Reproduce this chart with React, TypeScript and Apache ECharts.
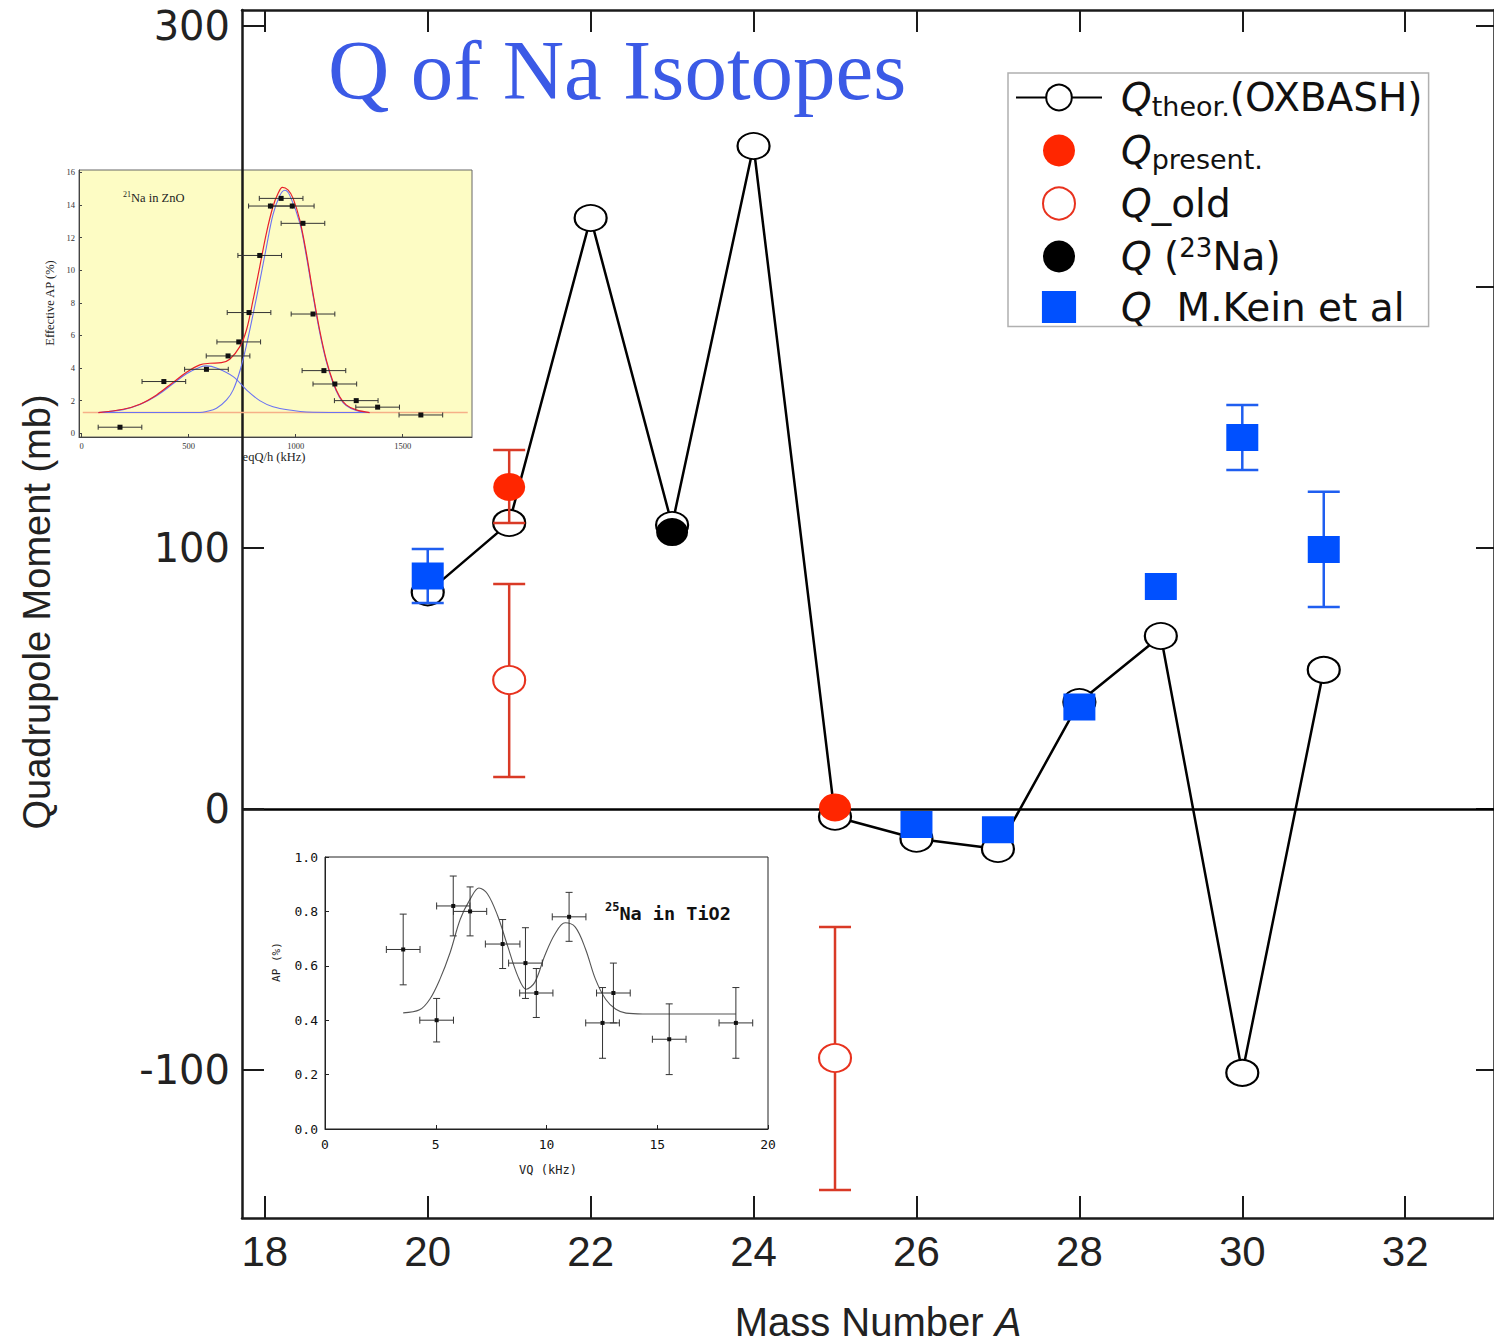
import React, { useEffect, useRef } from "react";
import * as echarts from "echarts";

// ---------------- Main chart data ----------------
const massNumbers = [20, 21, 22, 23, 24, 25, 26, 27, 28, 29, 30, 31];
const qTheor = [83, 109.6, 226.4, 108.8, 254, -3, -11.4, -15.3, 41, 66.3, -101.1, 53.3];

const presentA = [21, 25];
const qPresent = [123.4, 0.6];
const presentErrA = [21];
const presentErrLo = [109.6];
const presentErrHi = [137.5];

const oldA = [21, 25];
const qOld = [49.4, -95.4];
const oldErrLo = [12.3, -146];
const oldErrHi = [86.2, -45.2];

const na23A = [23];
const qNa23 = [106.1];

const keinA = [20, 26, 27, 28, 29, 30, 31];
const qKein = [89.3, -5.9, -8.0, 39.1, 85.2, 142.3, 99.4];
const keinErrA = [20, 30, 31];
const keinErrLo = [78.9, 129.9, 77.4];
const keinErrHi = [99.6, 154.8, 121.5];

const xTicks = [18, 20, 22, 24, 26, 28, 30, 32];
const yTicksLeft = [-100, 0, 100, 300];
const yTicksRight = [-100, 0, 100, 200, 300];

// ---------------- Inset 1: 21Na in ZnO ----------------
const znoX = [179, 384, 583, 684, 734, 782, 832, 882, 932, 984, 1034, 1081, 1132, 1183, 1283, 1383, 1585];
const znoY = [0.37, 3.17, 3.92, 4.74, 5.6, 7.4, 10.9, 13.93, 14.4, 13.93, 12.87, 7.31, 3.84, 3.02, 2.0, 1.6, 1.12];
const znoXErr = [102, 102, 102, 102, 102, 102, 102, 102, 102, 102, 102, 102, 102, 102, 102, 102, 102];
const znoTotalFit: [number, number][] = [
  [78, 1.27], [194, 1.47], [272, 1.78], [350, 2.35], [428, 3.13], [490, 3.74], [552, 4.19], [599, 4.29],
  [653, 4.33], [692, 4.54], [739, 5.31], [770, 6.33], [801, 8.17], [832, 10.2], [863, 12.26], [894, 13.9],
  [918, 14.71], [938, 15.08], [964, 14.92], [988, 14.4], [1019, 13.08], [1050, 11.03], [1081, 8.58],
  [1112, 6.33], [1143, 4.5], [1174, 3.17], [1205, 2.25], [1236, 1.74], [1283, 1.43], [1345, 1.27],
];
const znoNarrowFit: [number, number][] = [
  [78, 1.27], [552, 1.27], [583, 1.33], [630, 1.53], [677, 2.04], [708, 2.66], [739, 3.8], [770, 5.4],
  [801, 7.3], [832, 9.3], [863, 11.4], [894, 13.4], [925, 14.55], [949, 14.9], [972, 14.6], [1019, 12.9],
  [1050, 10.85], [1081, 8.45], [1112, 6.2], [1143, 4.4], [1174, 3.1], [1205, 2.2], [1236, 1.7], [1283, 1.4],
  [1345, 1.27],
];
const znoBroadFit: [number, number][] = [
  [78, 1.27], [194, 1.45], [272, 1.76], [350, 2.3], [428, 3.05], [490, 3.65], [552, 4.05], [583, 4.13],
  [630, 4.0], [708, 3.47], [770, 2.66], [832, 2.0], [894, 1.63], [988, 1.39], [1050, 1.3], [1205, 1.27],
  [1345, 1.27],
];
const znoBaseline: [number, number][] = [[5, 1.27], [1804, 1.27]];
const znoXTicks = [0, 500, 1000, 1500];
const znoYTicks = [0, 2, 4, 6, 8, 10, 12, 14, 16];

// ---------------- Inset 2: 25Na in TiO2 ----------------
const tioX = [3.53, 5.04, 5.79, 6.55, 8.02, 9.05, 9.54, 11.02, 12.53, 13.02, 15.54, 18.55];
const tioY = [0.66, 0.4, 0.82, 0.8, 0.68, 0.61, 0.5, 0.78, 0.39, 0.5, 0.33, 0.39];
const tioXErr = [0.76, 0.76, 0.75, 0.75, 0.78, 0.76, 0.75, 0.76, 0.76, 0.76, 0.76, 0.76];
const tioYLo = [0.53, 0.32, 0.71, 0.71, 0.59, 0.48, 0.41, 0.69, 0.26, 0.39, 0.2, 0.26];
const tioYHi = [0.79, 0.48, 0.93, 0.89, 0.77, 0.74, 0.59, 0.87, 0.52, 0.61, 0.46, 0.52];
const tioFit: [number, number][] = [
  [3.53, 0.427], [4.27, 0.438], [4.73, 0.477], [5.19, 0.551], [5.65, 0.649], [6.11, 0.772], [6.56, 0.846],
  [6.95, 0.886], [7.33, 0.865], [7.79, 0.785], [8.24, 0.674], [8.7, 0.563], [9.08, 0.514], [9.47, 0.539],
  [9.92, 0.637], [10.38, 0.717], [10.84, 0.758], [11.3, 0.742], [11.76, 0.662], [12.21, 0.551],
  [12.67, 0.477], [13.13, 0.44], [13.59, 0.426], [14.35, 0.423], [18.55, 0.423],
];
const tioXTicks = [0, 5, 10, 15, 20];
const tioYTicks = [0, 0.2, 0.4, 0.6, 0.8, 1.0];

// ---------------- helpers ----------------
const vErr = (color: string, cap: number, lw: number) => (params: any, api: any) => {
  const x = api.value(0);
  const lo = api.coord([x, api.value(1)]);
  const hi = api.coord([x, api.value(2)]);
  const h = cap / 2;
  const style = { stroke: color, lineWidth: lw };
  return {
    type: "group",
    children: [
      { type: "line", shape: { x1: lo[0], y1: lo[1], x2: hi[0], y2: hi[1] }, style },
      { type: "line", shape: { x1: lo[0] - h, y1: lo[1], x2: lo[0] + h, y2: lo[1] }, style },
      { type: "line", shape: { x1: hi[0] - h, y1: hi[1], x2: hi[0] + h, y2: hi[1] }, style },
    ],
  };
};

const xyErr = (color: string, cap: number, lw: number) => (params: any, api: any) => {
  const y = api.value(1);
  const x = api.value(0);
  const a = api.coord([api.value(2), y]);
  const b = api.coord([api.value(3), y]);
  const h = cap / 2;
  const style = { stroke: color, lineWidth: lw };
  const children: any[] = [
    { type: "line", shape: { x1: a[0], y1: a[1], x2: b[0], y2: b[1] }, style },
    { type: "line", shape: { x1: a[0], y1: a[1] - h, x2: a[0], y2: a[1] + h }, style },
    { type: "line", shape: { x1: b[0], y1: b[1] - h, x2: b[0], y2: b[1] + h }, style },
  ];
  const yl = api.value(4);
  const yh = api.value(5);
  if (yl !== yh) {
    const c = api.coord([x, yl]);
    const d = api.coord([x, yh]);
    children.push(
      { type: "line", shape: { x1: c[0], y1: c[1], x2: d[0], y2: d[1] }, style },
      { type: "line", shape: { x1: c[0] - h, y1: c[1], x2: c[0] + h, y2: c[1] }, style },
      { type: "line", shape: { x1: d[0] - h, y1: d[1], x2: d[0] + h, y2: d[1] }, style }
    );
  }
  return { type: "group", children };
};

const axisCol = "#1a1a1a";
const mainLine = { show: true, onZero: false, lineStyle: { color: axisCol, width: 2.5 } };

const legendText: Record<string, string> = {
  "Qtheor.(OXBASH)": "{sp| }{q|Q}{sub|theor.}{t|(OXBASH)}",
  "Qpresent.": "{sp| }{q|Q}{sub|present.}",
  "Q_old": "{sp| }{q|Q}{t|_old}",
  "Q (23Na)": "{sp| }{q|Q}{t| (}{sup|23}{t|Na)}",
  "Q M.Kein et al": "{sp| }{q|Q}{t|  M.Kein et al}",
};

const legendFont = "DejaVu Sans";

const option: any = {
  animation: false,
  backgroundColor: "#ffffff",
  title: {
    text: "Q of Na Isotopes",
    left: 328,
    top: 27,
    padding: 0,
    textStyle: { fontSize: 85, fontFamily: "Liberation Serif", fontWeight: "normal", color: "#3b5ae6" },
  },
  legend: {
    data: [
      { name: "Qtheor.(OXBASH)" },
      { name: "Qpresent." },
      { name: "Q_old" },
      { name: "Q (23Na)" },
      { name: "Q M.Kein et al", icon: "path://M0,0H32V30H0Z" },
    ],
    orient: "vertical",
    left: 1008,
    top: 73,
    padding: [5, 6, 0, 7],
    itemGap: 11.5,
    itemWidth: 86,
    itemHeight: 32,
    selectedMode: false,
    borderColor: "#b0b0b0",
    borderWidth: 1.5,
    backgroundColor: "#ffffff",
    formatter: (name: string) => legendText[name] || name,
    textStyle: {
      color: "#111",
      fontFamily: legendFont,
      fontSize: 39,
      rich: {
        sp: { width: 14, fontSize: 39, lineHeight: 44, fontFamily: legendFont },
        q: { fontStyle: "italic", fontSize: 39, lineHeight: 44, fontFamily: legendFont, color: "#111" },
        t: { fontSize: 39, lineHeight: 44, fontFamily: legendFont, color: "#111" },
        sub: { fontSize: 27, lineHeight: 18, verticalAlign: "bottom", fontFamily: legendFont, color: "#111" },
        sup: { fontSize: 26, lineHeight: 18, verticalAlign: "top", fontFamily: legendFont, color: "#111" },
      },
    },
  },
  grid: [
    { left: 242, top: 10, right: -3, bottom: 126, z: 0 },
    {
      left: 79, top: 170, width: 393, height: 267, show: true, z: 1,
      backgroundColor: "#fdfcc4", borderColor: "#666", borderWidth: 1,
    },
    {
      left: 325, top: 857, width: 443, height: 272, show: true, z: 1,
      backgroundColor: "#ffffff", borderColor: "#222", borderWidth: 1,
    },
  ],
  xAxis: [
    {
      type: "value", gridIndex: 0, position: "bottom", min: 17.72, max: 33.09,
      axisLine: mainLine,
      axisTick: { show: true, inside: true, length: 22, customValues: xTicks, lineStyle: { color: axisCol, width: 2 } },
      axisLabel: { show: true, customValues: xTicks, margin: 12, fontSize: 42, fontFamily: "Liberation Sans", color: "#222" },
      splitLine: { show: false },
    },
    {
      type: "value", gridIndex: 0, position: "top", min: 17.72, max: 33.09,
      axisLine: mainLine,
      axisTick: { show: true, inside: true, length: 22, customValues: xTicks, lineStyle: { color: axisCol, width: 2 } },
      axisLabel: { show: false },
      splitLine: { show: false },
    },
    {
      type: "value", gridIndex: 1, min: -12.6, max: 1824, z: 2,
      axisLine: { show: true, onZero: false, lineStyle: { color: "#444", width: 1 } },
      axisTick: { show: true, inside: true, length: 3, customValues: znoXTicks, lineStyle: { color: "#444", width: 1 } },
      axisLabel: {
        show: true, customValues: znoXTicks, margin: 4, fontSize: 8.5, fontFamily: "Liberation Serif", color: "#333",
        formatter: (v: number) => String(v),
      },
      splitLine: { show: false },
    },
    {
      type: "value", gridIndex: 2, min: 0, max: 20, z: 2,
      axisLine: { show: true, onZero: false, lineStyle: { color: "#222", width: 1 } },
      axisTick: { show: true, inside: true, length: 4, customValues: tioXTicks, lineStyle: { color: "#222", width: 1 } },
      axisLabel: { show: true, customValues: tioXTicks, margin: 9, fontSize: 13, fontFamily: "DejaVu Sans Mono", color: "#111" },
      splitLine: { show: false },
    },
  ],
  yAxis: [
    {
      type: "value", gridIndex: 0, position: "left", min: -156.7, max: 306.1, z: 3,
      axisLine: mainLine,
      axisTick: { show: true, inside: true, length: 22, customValues: yTicksLeft, lineStyle: { color: axisCol, width: 2 } },
      axisLabel: { show: true, customValues: yTicksLeft, margin: 12, fontSize: 40, fontFamily: "DejaVu Sans", color: "#222" },
      splitLine: { show: false },
    },
    {
      type: "value", gridIndex: 0, position: "right", min: -156.7, max: 306.1,
      axisLine: mainLine,
      axisTick: { show: true, inside: true, length: 18, customValues: yTicksRight, lineStyle: { color: axisCol, width: 2 } },
      axisLabel: { show: false },
      splitLine: { show: false },
    },
    {
      type: "value", gridIndex: 1, min: -0.23, max: 16.14, z: 2,
      axisLine: { show: true, onZero: false, lineStyle: { color: "#444", width: 1 } },
      axisTick: { show: true, inside: true, length: 3, customValues: znoYTicks, lineStyle: { color: "#444", width: 1 } },
      axisLabel: { show: true, customValues: znoYTicks, margin: 4, fontSize: 8.5, fontFamily: "Liberation Serif", color: "#333" },
      splitLine: { show: false },
    },
    {
      type: "value", gridIndex: 2, min: 0, max: 1, z: 2,
      axisLine: { show: true, onZero: false, lineStyle: { color: "#222", width: 1 } },
      axisTick: { show: true, inside: true, length: 4, customValues: tioYTicks, lineStyle: { color: "#222", width: 1 } },
      axisLabel: {
        show: true, customValues: tioYTicks, margin: 7, fontSize: 13, fontFamily: "DejaVu Sans Mono", color: "#111",
        formatter: (v: number) => v.toFixed(1),
      },
      splitLine: { show: false },
    },
  ],
  graphic: [
    {
      type: "text", x: 37, y: 612, rotation: Math.PI / 2, z: 0,
      style: {
        text: "Quadrupole Moment (mb)", fontSize: 38, fontFamily: "Liberation Sans", fill: "#222",
        align: "center", verticalAlign: "middle",
      },
    },
    {
      type: "text", x: 878, y: 1322, z: 0,
      style: {
        text: "{n|Mass Number }{i|A}", align: "center", verticalAlign: "middle",
        rich: {
          n: { fontSize: 40, lineHeight: 40, fontFamily: "Liberation Sans", fill: "#222" },
          i: { fontSize: 40, lineHeight: 40, fontFamily: "Liberation Sans", fontStyle: "italic", fill: "#222" },
        },
      },
    },
    {
      type: "text", x: 123, y: 198, z: 10,
      style: {
        text: "{s|21}{t|Na in ZnO}", verticalAlign: "middle",
        rich: {
          s: { fontSize: 8, fontFamily: "Liberation Serif", fill: "#222", verticalAlign: "top", lineHeight: 10 },
          t: { fontSize: 12.5, fontFamily: "Liberation Serif", fill: "#222", lineHeight: 16 },
        },
      },
    },
    {
      type: "text", x: 50, y: 303, rotation: Math.PI / 2, z: 10,
      style: {
        text: "Effective AP (%)", fontSize: 12.5, fontFamily: "Liberation Serif", fill: "#222",
        align: "center", verticalAlign: "middle",
      },
    },
    {
      type: "text", x: 274, y: 457, z: 10,
      style: {
        text: "eqQ/h (kHz)", fontSize: 12.5, fontFamily: "Liberation Serif", fill: "#222",
        align: "center", verticalAlign: "middle",
      },
    },
    {
      type: "text", x: 605, y: 913, z: 10,
      style: {
        text: "{s|25}{t|Na in TiO2}", verticalAlign: "middle",
        rich: {
          s: { fontSize: 12, fontWeight: "bold", fontFamily: "DejaVu Sans Mono", fill: "#111", verticalAlign: "top", lineHeight: 12 },
          t: { fontSize: 18.5, fontWeight: "bold", fontFamily: "DejaVu Sans Mono", fill: "#111", lineHeight: 24 },
        },
      },
    },
    {
      type: "text", x: 276, y: 962, rotation: Math.PI / 2, z: 10,
      style: {
        text: "AP (%)", fontSize: 11, fontFamily: "DejaVu Sans Mono", fill: "#222",
        align: "center", verticalAlign: "middle",
      },
    },
    {
      type: "text", x: 548, y: 1170, z: 10,
      style: {
        text: "VQ (kHz)", fontSize: 12, fontFamily: "DejaVu Sans Mono", fill: "#222",
        align: "center", verticalAlign: "middle",
      },
    },
  ],
  series: [
    {
      name: "Qtheor.(OXBASH)", type: "line", xAxisIndex: 0, yAxisIndex: 0, z: 2,
      data: massNumbers.map((a, i) => [a, qTheor[i]]),
      symbol: "circle", symbolSize: [32, 26], showAllSymbol: true,
      itemStyle: { color: "#ffffff", borderColor: "#000", borderWidth: 2, opacity: 1 },
      lineStyle: { color: "#000", width: 2.5 },
      markLine: {
        z: 1, silent: true, symbol: ["none", "none"], label: { show: false },
        lineStyle: { color: "#000", width: 2.5, type: "solid" },
        data: [{ yAxis: 0 }],
      },
    },
    {
      name: "errPresent", type: "custom", xAxisIndex: 0, yAxisIndex: 0, z: 3,
      renderItem: vErr("#d93a26", 32, 2.5),
      data: presentErrA.map((a, i) => [a, presentErrLo[i], presentErrHi[i]]),
    },
    {
      name: "errOld", type: "custom", xAxisIndex: 0, yAxisIndex: 0, z: 3,
      renderItem: vErr("#d93a26", 32, 2.5),
      data: oldA.map((a, i) => [a, oldErrLo[i], oldErrHi[i]]),
    },
    {
      name: "errKein", type: "custom", xAxisIndex: 0, yAxisIndex: 0, z: 3,
      renderItem: vErr("#1f5ef0", 32, 2.5),
      data: keinErrA.map((a, i) => [a, keinErrLo[i], keinErrHi[i]]),
    },
    {
      name: "Qpresent.", type: "scatter", xAxisIndex: 0, yAxisIndex: 0, z: 4,
      data: presentA.map((a, i) => [a, qPresent[i]]),
      symbol: "circle", symbolSize: [32, 28],
      itemStyle: { color: "#ff2600", opacity: 1 },
    },
    {
      name: "Q_old", type: "scatter", xAxisIndex: 0, yAxisIndex: 0, z: 4,
      data: oldA.map((a, i) => [a, qOld[i]]),
      symbol: "circle", symbolSize: [32, 28],
      itemStyle: { color: "#ffffff", borderColor: "#e8321e", borderWidth: 2, opacity: 1 },
    },
    {
      name: "Q (23Na)", type: "scatter", xAxisIndex: 0, yAxisIndex: 0, z: 4,
      data: na23A.map((a, i) => [a, qNa23[i]]),
      symbol: "circle", symbolSize: [32, 28],
      itemStyle: { color: "#000", opacity: 1 },
    },
    {
      name: "Q M.Kein et al", type: "scatter", xAxisIndex: 0, yAxisIndex: 0, z: 4,
      data: keinA.map((a, i) => [a, qKein[i]]),
      symbol: "rect", symbolSize: [32, 27],
      itemStyle: { color: "#0050ff", opacity: 1 },
    },
    // ---- inset 1 ----
    {
      name: "znoBaseline", type: "line", xAxisIndex: 2, yAxisIndex: 2, z: 3,
      data: znoBaseline, symbol: "none", lineStyle: { color: "#f6b088", width: 1.6 },
    },
    {
      name: "znoBroad", type: "line", xAxisIndex: 2, yAxisIndex: 2, z: 3, smooth: 0.35,
      data: znoBroadFit, symbol: "none", lineStyle: { color: "#6a72f2", width: 1.1 },
    },
    {
      name: "znoNarrow", type: "line", xAxisIndex: 2, yAxisIndex: 2, z: 3, smooth: 0.35,
      data: znoNarrowFit, symbol: "none", lineStyle: { color: "#6a72f2", width: 1.1 },
    },
    {
      name: "znoTotal", type: "line", xAxisIndex: 2, yAxisIndex: 2, z: 3, smooth: 0.35,
      data: znoTotalFit, symbol: "none", lineStyle: { color: "#e8202a", width: 1.2 },
    },
    {
      name: "znoErr", type: "custom", xAxisIndex: 2, yAxisIndex: 2, z: 4,
      renderItem: xyErr("#333", 5, 1),
      data: znoX.map((x, i) => [x, znoY[i], x - znoXErr[i], x + znoXErr[i], znoY[i], znoY[i]]),
    },
    {
      name: "znoPts", type: "scatter", xAxisIndex: 2, yAxisIndex: 2, z: 5,
      data: znoX.map((x, i) => [x, znoY[i]]),
      symbol: "rect", symbolSize: [5, 5], itemStyle: { color: "#111", opacity: 1 },
    },
    // ---- inset 2 ----
    {
      name: "tioFit", type: "line", xAxisIndex: 3, yAxisIndex: 3, z: 3, smooth: 0.35,
      data: tioFit, symbol: "none", lineStyle: { color: "#555", width: 1.1 },
    },
    {
      name: "tioErr", type: "custom", xAxisIndex: 3, yAxisIndex: 3, z: 4,
      renderItem: xyErr("#333", 7, 1),
      data: tioX.map((x, i) => [x, tioY[i], x - tioXErr[i], x + tioXErr[i], tioYLo[i], tioYHi[i]]),
    },
    {
      name: "tioPts", type: "scatter", xAxisIndex: 3, yAxisIndex: 3, z: 5,
      data: tioX.map((x, i) => [x, tioY[i]]),
      symbol: "rect", symbolSize: [4, 4], itemStyle: { color: "#111", opacity: 1 },
    },
  ],
};

export default function App() {
  const ref = useRef<HTMLDivElement>(null);
  useEffect(() => {
    document.body.style.margin = "0";
    const chart = echarts.init(ref.current as HTMLDivElement, undefined, { renderer: "svg" });
    chart.setOption(option);
    return () => chart.dispose();
  }, []);
  return <div ref={ref} style={{ width: 1494, height: 1344 }} />;
}
